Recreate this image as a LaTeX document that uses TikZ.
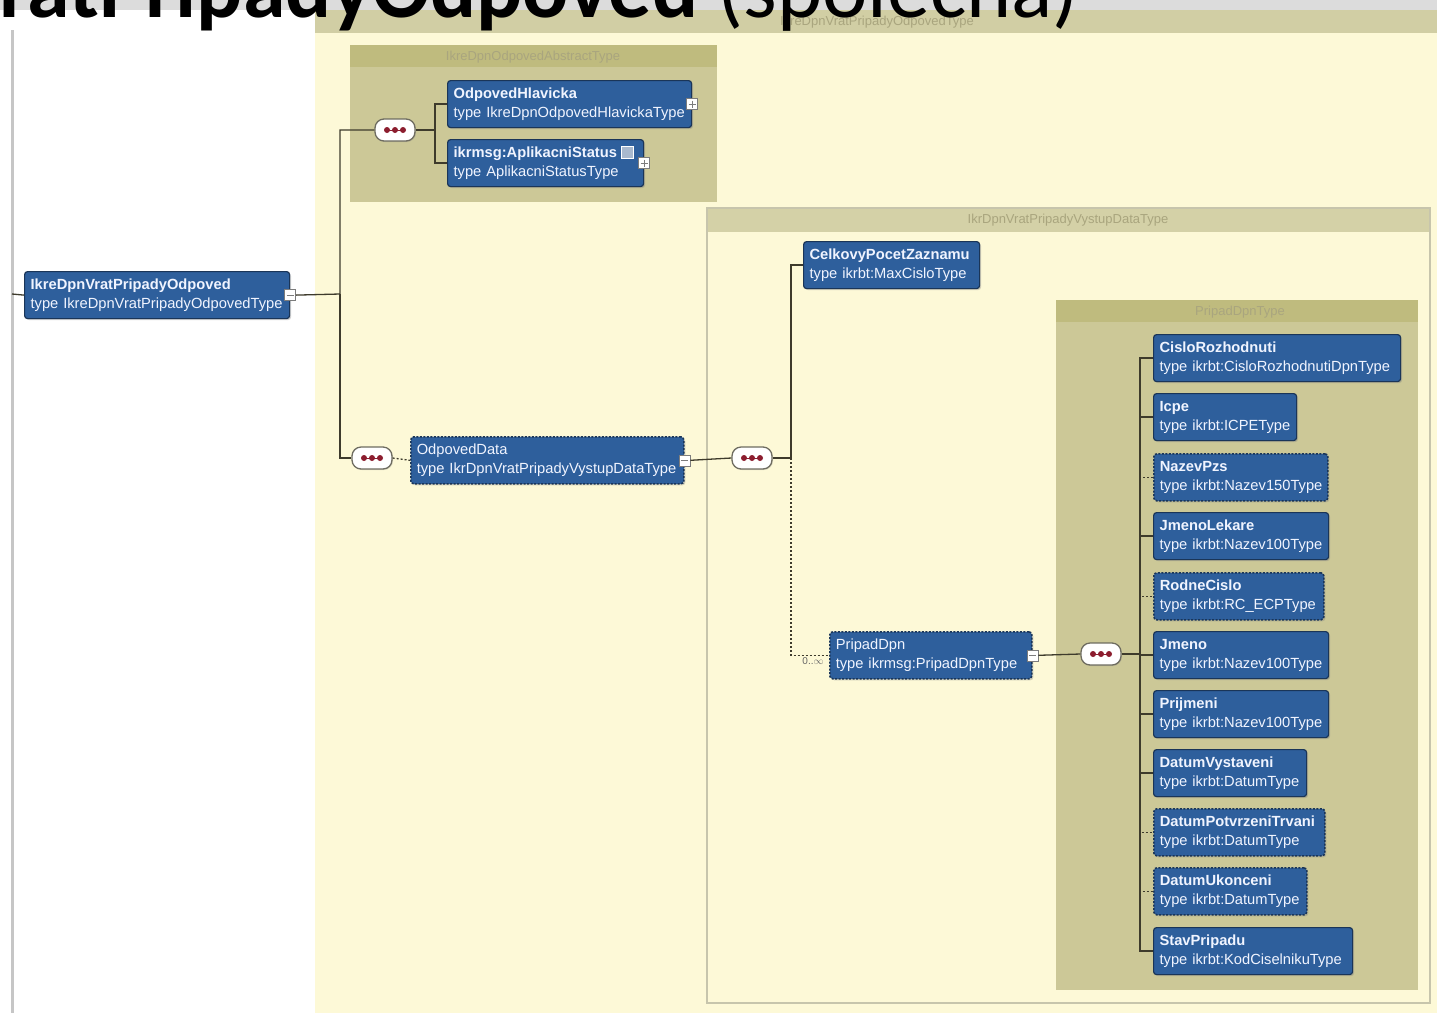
\documentclass[tikz,border=0pt]{standalone}
\usepackage{fontspec}
\setmainfont{Liberation Sans}
\newfontfamily\titlefont{Carlito}
\usetikzlibrary{shadows}

\definecolor{topgray}{HTML}{DCDCDC}
\definecolor{edgegray}{HTML}{C6C6C6}
\definecolor{outerbody}{HTML}{FDF9D7}
\definecolor{outerband}{HTML}{D1CEA4}
\definecolor{olivebody}{HTML}{CCC897}
\definecolor{oliveband}{HTML}{BFBB7E}
\definecolor{vyband}{HTML}{D4D1A7}
\definecolor{vyline}{HTML}{C7C5AC}
\definecolor{elemfill}{HTML}{2E5F9C}
\definecolor{elemline}{HTML}{1A3558}
\definecolor{elemtext}{HTML}{F0F4FF}
\definecolor{seqline}{HTML}{6E6C60}
\definecolor{seqdot}{HTML}{8C1D2E}
\definecolor{connline}{HTML}{3E3B2C}
\definecolor{lbltext}{HTML}{A9A57E}
\definecolor{expline}{HTML}{7C7C7C}
\definecolor{iconfill}{HTML}{A9B9CE}

\begin{document}
\begin{tikzpicture}[x=1pt,y=-1pt,
  elem/.style={draw=elemline, fill=elemfill, line width=1.2pt, rounded corners=3pt,
    anchor=north west, text=elemtext, align=left, text width=#1, inner xsep=6pt,
    inner ysep=2pt, minimum height=47pt, font=\fontsize{14.7}{19}\selectfont,
    drop shadow={opacity=.35, shadow xshift=1.5pt, shadow yshift=-1.5pt}},
  opt/.style={elem=#1, dash pattern=on 2pt off 1.5pt, line width=1.6pt},
  seq/.style={draw=seqline, fill=white, rounded corners=9pt, minimum width=40pt,
    minimum height=22pt, line width=1.3pt,
    drop shadow={opacity=.25, shadow xshift=1pt, shadow yshift=-1pt},
    path picture={
      \draw[seqdot, line width=1pt] ([xshift=-8pt]path picture bounding box.center)
        -- ([xshift=8pt]path picture bounding box.center);
      \foreach \d in {-8,0,8}
        \fill[seqdot] ([xshift=\d pt]path picture bounding box.center) circle (3pt);}},
  expm/.style={draw=expline, fill=white, minimum size=11pt, inner sep=0pt, line width=.6pt,
    path picture={\draw[line width=1.2pt] ([xshift=2pt]path picture bounding box.west)
      -- ([xshift=-2pt]path picture bounding box.east);}},
  expp/.style={draw=expline, fill=white, minimum size=11pt, inner sep=0pt, line width=.6pt,
    path picture={\draw[line width=1.2pt] ([xshift=2pt]path picture bounding box.west)
      -- ([xshift=-2pt]path picture bounding box.east);
      \draw[line width=1.2pt] ([yshift=-2pt]path picture bounding box.north)
      -- ([yshift=2pt]path picture bounding box.south);}},
  grplabel/.style={text=lbltext, font=\fontsize{13}{15}\selectfont, inner sep=0pt},
  conn/.style={draw=connline, line width=1.3pt},
  optline/.style={dash pattern=on 2pt off 2pt}]

  \clip (0,0) rectangle (1437,1013);
  \fill[white] (0,0) rectangle (1437,1013);
  \fill[topgray] (0,0) rectangle (1437,10);
  \draw[edgegray, line width=3pt] (12,30) -- (12,1013);

  % outer type
  \fill[outerbody] (315,10) rectangle (1437,1013);
  \fill[outerband] (315,10) rectangle (1437,33);
  \node[grplabel] (outerlbl) at (877,22) {IkreDpnVratPripadyOdpovedType};

  % abstract type
  \fill[olivebody] (350,45) rectangle (717,202);
  \fill[oliveband] (350,45) rectangle (717,67);
  \node[grplabel] (abslbl) at (533,57) {IkreDpnOdpovedAbstractType};

  % vystup data type
  \filldraw[fill=outerbody, draw=vyline, line width=1.5pt] (707,208) rectangle (1430,1003);
  \fill[vyband] (708,209) rectangle (1429,232);
  \node[grplabel] (vylbl) at (1068,220) {IkrDpnVratPripadyVystupDataType};

  % pripad type
  \fill[olivebody] (1056,300) rectangle (1418,990);
  \fill[oliveband] (1056,300) rectangle (1418,322);
  \node[grplabel] (pdlbl) at (1240,312) {PripadDpnType};

  % elements
  \node[elem=253pt] (root) at (24,271)
    {\textbf{IkreDpnVratPripadyOdpoved}\\type~IkreDpnVratPripadyOdpovedType};
  \node[elem=232pt] (hlav) at (447,80)
    {\textbf{OdpovedHlavicka}\\type~IkreDpnOdpovedHlavickaType};
  \node[elem=184pt] (stat) at (447,139)
    {\textbf{ikrmsg:AplikacniStatus}\\type~AplikacniStatusType};
  \node[opt=261pt] (odata) at (410,436)
    {OdpovedData\\type~IkrDpnVratPripadyVystupDataType};
  \node[elem=164pt] (celk) at (803,241)
    {\textbf{CelkovyPocetZaznamu}\\type~ikrbt:MaxCisloType};
  \node[opt=190pt] (pdpn) at (829,631)
    {PripadDpn\\type~ikrmsg:PripadDpnType};

  \node[elem=235pt] (c1) at (1153,334) {\textbf{CisloRozhodnuti}\\type~ikrbt:CisloRozhodnutiDpnType};
  \node[elem=131pt] (c2) at (1153,393) {\textbf{Icpe}\\type~ikrbt:ICPEType};
  \node[opt=162pt] (c3) at (1153,453) {\textbf{NazevPzs}\\type~ikrbt:Nazev150Type};
  \node[elem=163pt] (c4) at (1153,512) {\textbf{JmenoLekare}\\type~ikrbt:Nazev100Type};
  \node[opt=158pt] (c5) at (1153,572) {\textbf{RodneCislo}\\type~ikrbt:RC\_ECPType};
  \node[elem=163pt] (c6) at (1153,631) {\textbf{Jmeno}\\type~ikrbt:Nazev100Type};
  \node[elem=163pt] (c7) at (1153,690) {\textbf{Prijmeni}\\type~ikrbt:Nazev100Type};
  \node[elem=141pt] (c8) at (1153,749) {\textbf{DatumVystaveni}\\type~ikrbt:DatumType};
  \node[opt=159pt] (c9) at (1153,808) {\textbf{DatumPotvrzeniTrvani}\\type~ikrbt:DatumType};
  \node[opt=141pt] (c10) at (1153,867) {\textbf{DatumUkonceni}\\type~ikrbt:DatumType};
  \node[elem=187pt] (c11) at (1153,927) {\textbf{StavPripadu}\\type~ikrbt:KodCiselnikuType};

  \node[draw=white, fill=iconfill, minimum size=12pt, inner sep=0pt] (staticon) at (627,152) {};
  \node[text=black!60, font=\fontsize{10}{11}\selectfont, inner sep=0pt] (pmult) at (813,661) {0..$\infty$};

  % expanders
  \node[expm] (rootx) at (root.east) {};
  \node[expp] (hlavx) at (hlav.east) {};
  \node[expp] (statx) at (stat.east) {};
  \node[expm] (odatax) at (odata.east) {};
  \node[expm] (pdpnx) at (pdpn.east) {};

  % sequences
  \node[seq] (seq1) at (395,130) {};
  \node[seq] (seq2) at (372,458) {};
  \node[seq] (seq3) at (752,458) {};
  \node[seq] (seq4) at (1101,654) {};

  \coordinate (lin) at (12,294);
  \coordinate (j1) at (340,294);
  \coordinate (j2) at (435,130);
  \coordinate (j3) at (791,458);
  \coordinate (j4) at (1140,654);

  % connectors
  \draw[conn] (lin) -- (root.west);
  \draw[conn] (rootx.east) -- (j1) |- (seq1.west);
  \draw[conn] (j1) |- (seq2.west);
  \draw[conn] (seq1.east) -- (j2) |- (hlav.west);
  \draw[conn] (j2) |- (stat.west);
  \draw[conn, optline] (seq2.east) -- (odata.west);
  \draw[conn] (odatax.east) -- (seq3.west);
  \draw[conn] (seq3.east) -- (j3) |- (celk.west);
  \draw[conn, optline] (j3) |- (pdpn.west);
  \draw[conn] (pdpnx.east) -- (seq4.west);
  \draw[conn] (seq4.east) -- (j4);
  \foreach \i in {3,5,9,10}
    \draw[conn, optline] (j4) |- (c\i.west);
  \foreach \i in {1,2,4,6,7,8,11}
    \draw[conn] (j4) |- (c\i.west);

  % title
  \node[anchor=base west, inner sep=0pt, font=\titlefont\fontsize{86}{96}\selectfont] (title) at (-1,17)
    {\textbf{ratPripadyOdpoved} (společná)};
\end{tikzpicture}
\end{document}
